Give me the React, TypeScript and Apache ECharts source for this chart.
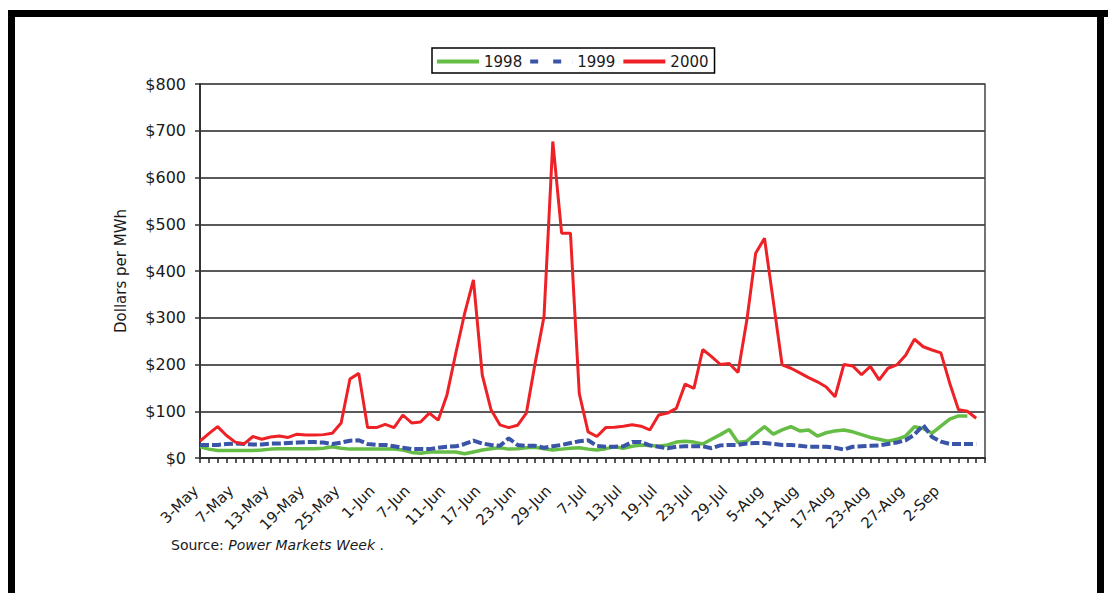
import React, { useEffect, useRef } from "react";
import * as echarts from "echarts";

const categories = [
  "3-May", "4-May", "5-May", "6-May", "7-May", "9-May", "10-May", "11-May", "13-May", "15-May",
  "16-May", "17-May", "19-May", "21-May", "22-May", "23-May", "25-May", "27-May", "29-May", "30-May",
  "1-Jun", "3-Jun", "4-Jun", "5-Jun", "7-Jun", "8-Jun", "9-Jun", "10-Jun", "11-Jun", "13-Jun",
  "14-Jun", "15-Jun", "17-Jun", "19-Jun", "20-Jun", "21-Jun", "23-Jun", "25-Jun", "26-Jun", "27-Jun",
  "29-Jun", "1-Jul", "3-Jul", "5-Jul", "7-Jul", "9-Jul", "10-Jul", "11-Jul", "13-Jul", "15-Jul",
  "16-Jul", "17-Jul", "19-Jul", "20-Jul", "21-Jul", "22-Jul", "23-Jul", "25-Jul", "26-Jul", "27-Jul",
  "29-Jul", "31-Jul", "1-Aug", "3-Aug", "5-Aug", "7-Aug", "8-Aug", "9-Aug", "11-Aug", "13-Aug",
  "14-Aug", "15-Aug", "17-Aug", "19-Aug", "20-Aug", "21-Aug", "23-Aug", "24-Aug", "25-Aug", "26-Aug",
  "27-Aug", "29-Aug", "30-Aug", "31-Aug", "2-Sep", "3-Sep", "4-Sep", "5-Sep", "6-Sep", "7-Sep",
];

const seriesNames = ["1998", "1999", "2000"];

const values1998 = [
  24, 19, 16, 16, 16, 16, 16, 17, 19, 20,
  20, 20, 20, 20, 21, 24, 21, 19, 19, 19,
  19, 19, 19, 17, 12, 10, 13, 13, 13, 13,
  9, 13, 17, 20, 22, 19, 20, 22, 23, 20,
  17, 19, 21, 22, 19, 17, 20, 24, 21, 25,
  28, 27, 25, 28, 34, 36, 34, 30, 40, 50,
  61, 33, 36, 52, 67, 51, 60, 67, 58, 60,
  47, 54, 58, 60, 56, 50, 44, 40, 36, 40,
  47, 67, 63, 53, 68, 83, 90, 90,
];

const values1999 = [
  28, 28, 28, 30, 31, 30, 29, 29, 31, 31,
  32, 33, 34, 34, 33, 30, 33, 37, 38, 30,
  28, 28, 25, 22, 19, 19, 19, 22, 24, 25,
  30, 37, 31, 28, 26, 42, 28, 26, 26, 22,
  25, 28, 32, 36, 38, 26, 24, 24, 25, 34,
  34, 27, 24, 21, 24, 25, 25, 25, 21, 27,
  28, 28, 31, 32, 32, 30, 28, 28, 26, 24,
  24, 24, 22, 18, 24, 25, 26, 27, 30, 33,
  38, 50, 70, 45, 35, 30, 30, 30, 30,
];

const values2000 = [
  36, 52, 67, 48, 34, 30, 46, 40, 45, 47,
  44, 51, 49, 49, 50, 53, 75, 169, 181, 65,
  65, 72, 65, 92, 75, 77, 96, 81, 135, 224,
  309, 381, 178, 103, 71, 65, 70, 96, 203, 302,
  677, 481, 481, 138, 56, 46, 65, 66, 68, 71,
  68, 60, 92, 96, 106, 158, 149, 232, 217, 200,
  202, 183, 295, 438, 470, 335, 199, 192, 182, 172,
  163, 152, 131, 200, 197, 178, 196, 167, 192, 199,
  220, 254, 238, 231, 225, 160, 103, 100, 85,
];

const FONT = "DejaVu Sans";
const TEXT = "#1a1a1a";
const GREEN = "#66bd45";
const BLUE = "#3a55a8";
const RED = "#ee2226";

export default function App() {
  const ref = useRef<HTMLDivElement>(null);

  useEffect(() => {
    document.body.style.margin = "0";
    const chart = echarts.init(ref.current as HTMLDivElement, undefined, { renderer: "svg" });
    chart.setOption({
      animation: false,
      backgroundColor: "#ffffff",
      grid: { left: 200, top: 84, right: 123, bottom: 135, outerBoundsMode: "none", containLabel: false },
      legend: {
        data: [
          { name: seriesNames[0], icon: "rect" },
          { name: seriesNames[1], icon: "path://M0,0H8V4H0Z M23,0H31V4H23Z M41.9,0H42V4H41.9Z" },
          { name: seriesNames[2], icon: "rect" },
        ],
        left: 432,
        top: 48,
        orient: "horizontal",
        padding: [6, 6, 4, 5],
        itemGap: 8,
        itemWidth: 42,
        itemHeight: 4,
        borderColor: "#000",
        borderWidth: 1.5,
        borderRadius: 0,
        textStyle: { fontFamily: FONT, fontSize: 15, color: TEXT },
      },
      xAxis: {
        type: "category",
        data: categories,
        boundaryGap: false,
        axisLine: { show: true, lineStyle: { color: "#333", width: 2 } },
        axisTick: { show: true, interval: 0, length: 5, lineStyle: { color: "#222", width: 1.5 } },
        axisLabel: {
          interval: (index: number) => index % 4 === 0 && index <= 84,
          rotate: 45,
          margin: 26,
          padding: [0, 6, 0, 0],
          fontFamily: FONT,
          fontSize: 15,
          color: TEXT,
        },
        splitLine: { show: false },
      },
      yAxis: [
        {
          type: "value",
          min: 0,
          max: 800,
          interval: 100,
          name: "Dollars per MWh",
          nameLocation: "middle",
          nameGap: 72,
          nameTextStyle: { fontFamily: FONT, fontSize: 15, color: TEXT },
          axisLine: { show: true, lineStyle: { color: "#333", width: 2 } },
          axisTick: { show: true, length: 5, lineStyle: { color: "#333", width: 1.5 } },
          axisLabel: {
            formatter: (v: number) => "$" + v,
            margin: 14,
            fontFamily: FONT,
            fontSize: 16,
            color: TEXT,
          },
          splitLine: { show: true, lineStyle: { color: "#222", width: 1.5 } },
        },
        {
          type: "value",
          position: "right",
          min: 0,
          max: 800,
          interval: 100,
          axisLine: { show: true, lineStyle: { color: "#444", width: 1.5 } },
          axisTick: { show: false },
          axisLabel: { show: false },
          splitLine: { show: false },
        },
      ],
      series: [
        {
          name: seriesNames[0],
          type: "line",
          data: values1998,
          symbol: "none",
          showSymbol: false,
          lineStyle: { color: GREEN, width: 3.5 },
          itemStyle: { color: GREEN },
          z: 2,
        },
        {
          name: seriesNames[1],
          type: "line",
          data: values1999,
          symbol: "none",
          showSymbol: false,
          lineStyle: { color: BLUE, width: 4, type: [9, 3] },
          itemStyle: { color: BLUE },
          z: 3,
        },
        {
          name: seriesNames[2],
          type: "line",
          data: values2000,
          symbol: "none",
          showSymbol: false,
          lineStyle: { color: RED, width: 3 },
          itemStyle: { color: RED },
          z: 4,
        },
      ],
      graphic: [
        { type: "rect", shape: { x: 8, y: 10, width: 1100, height: 7 }, style: { fill: "#000" }, silent: true },
        { type: "rect", shape: { x: 8, y: 10, width: 7, height: 583 }, style: { fill: "#000" }, silent: true },
        { type: "rect", shape: { x: 1097, y: 10, width: 7, height: 583 }, style: { fill: "#000" }, silent: true },
        {
          type: "text",
          x: 171,
          y: 538,
          style: {
            text: "{a|Source: }{b|Power Markets Week}{a| .}",
            rich: {
              a: { fontFamily: FONT, fontSize: 14, fill: TEXT },
              b: { fontFamily: FONT, fontSize: 14, fontStyle: "italic", fill: TEXT },
            },
          },
        },
      ],
    });
    return () => chart.dispose();
  }, []);

  return <div ref={ref} style={{ width: 1108, height: 593, background: "#fff" }} />;
}
